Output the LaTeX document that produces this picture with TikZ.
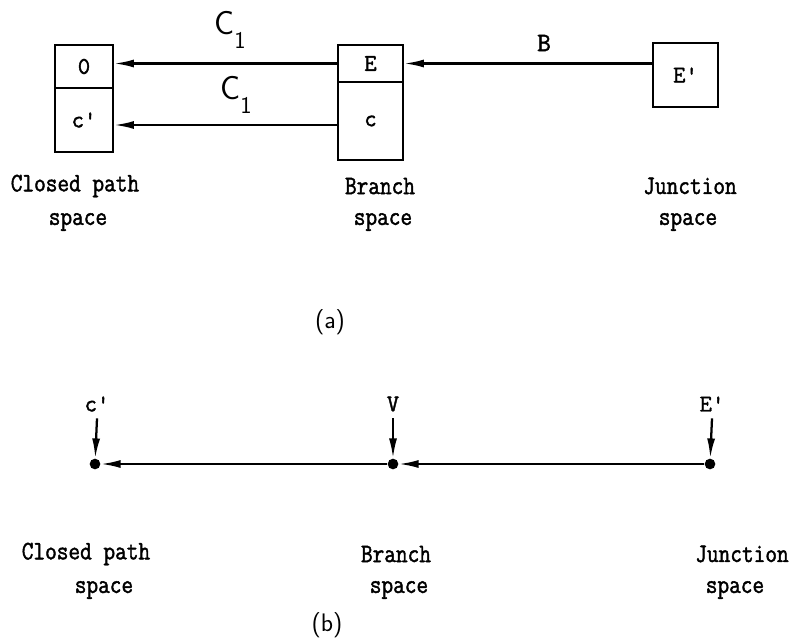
\documentclass[tikz,border=0pt]{standalone}
\usepackage{fontspec}
\usetikzlibrary{arrows.meta}
\newfontfamily\tw{Latin Modern Mono}[FakeBold=1.6]
\newfontfamily\twn{Latin Modern Mono}[FakeBold=1.6,FakeStretch=0.85]
\begin{document}
\begin{tikzpicture}[x=0.75pt,y=-0.75pt,
  cell/.style={draw, line width=1.4pt, inner sep=0pt, font=\tw\fontsize{18}{20}\selectfont},
  lbl/.style={font=\twn\fontsize{20}{22}\selectfont, inner sep=0pt},
  sym/.style={font=\tw\fontsize{18}{20}\selectfont, inner sep=0pt},
  figcap/.style={font=\sffamily\fontsize{19}{20}\selectfont, inner sep=0pt},
  csub/.style={font=\sffamily\fontsize{25}{25}\selectfont, inner sep=0pt},
  arr/.style={line width=1.7pt, -{Latex[length=15pt,width=6pt]}},
  dot/.style={circle, fill, inner sep=0pt, minimum size=8pt}]
\useasboundingbox (0,0) rectangle (809,638);
% (a)
\node[cell, minimum width=43.5pt, minimum height=32.25pt] (z) at (84,66.5) {0};
\node[cell, minimum width=43.5pt, minimum height=48pt] (cp) at (84,120) {c'};
\node[cell, minimum width=48.75pt, minimum height=27.75pt] (E) at (370.5,63.5) {E};
\node[cell, minimum width=48.75pt, minimum height=58.5pt] (c) at (370.5,121) {c};
\node[cell, minimum width=48.75pt, minimum height=48pt] (Ep) at (685.5,75) {E'};
\coordinate (ylo) at (0,125);
\draw[arr] (E.west) -- (E.west -| z.east);
\draw[arr] (c.west |- ylo) -- (cp.east |- ylo);
\draw[arr] (Ep.west |- E.east) -- (E.east);
\node[csub] (c1a) at (230,30) {C\raisebox{-10pt}{\fontsize{18}{18}\selectfont 1}};
\node[csub] (c1b) at (236,95) {C\raisebox{-10pt}{\fontsize{18}{18}\selectfont 1}};
\node[font=\tw\fontsize{20}{20}\selectfont, inner sep=0pt] (B) at (544,43) {B};
\node[lbl] (a1) at (75,186) {Closed path};
\node[lbl] (a2) at (78,222) {space};
\node[lbl] (a3) at (380,186) {Branch};
\node[lbl] (a4) at (383,222) {space};
\node[lbl] (a5) at (690,186) {Junction};
\node[lbl] (a6) at (688,222) {space};
\node[figcap] (capa) at (330,322) {(a)};
% (b)
\node[dot] (d1) at (95,464) {};
\node[dot] (d2) at (393,464) {};
\node[dot] (d3) at (710,464) {};
\node[sym] (t1) at (97,404) {c'};
\node[sym] (t2) at (393,404) {V};
\node[sym] (t3) at (712,404) {E'};
\draw[arr] ([yshift=-5pt]t1.south) -- (d1);
\draw[arr] ([yshift=-5pt]t2.south) -- (d2);
\draw[arr] ([yshift=-5pt]t3.south) -- (d3);
\draw[arr] (d2) -- (d1);
\draw[arr] (d3) -- (d2);
\node[lbl] (b1) at (86,554) {Closed path};
\node[lbl] (b2) at (104,590) {space};
\node[lbl] (b3) at (396,554) {Branch};
\node[lbl] (b4) at (399,590) {space};
\node[lbl] (b5) at (742,554) {Junction};
\node[lbl] (b6) at (735,590) {space};
\node[figcap] (capb) at (327,625) {(b)};
\end{tikzpicture}
\end{document}
